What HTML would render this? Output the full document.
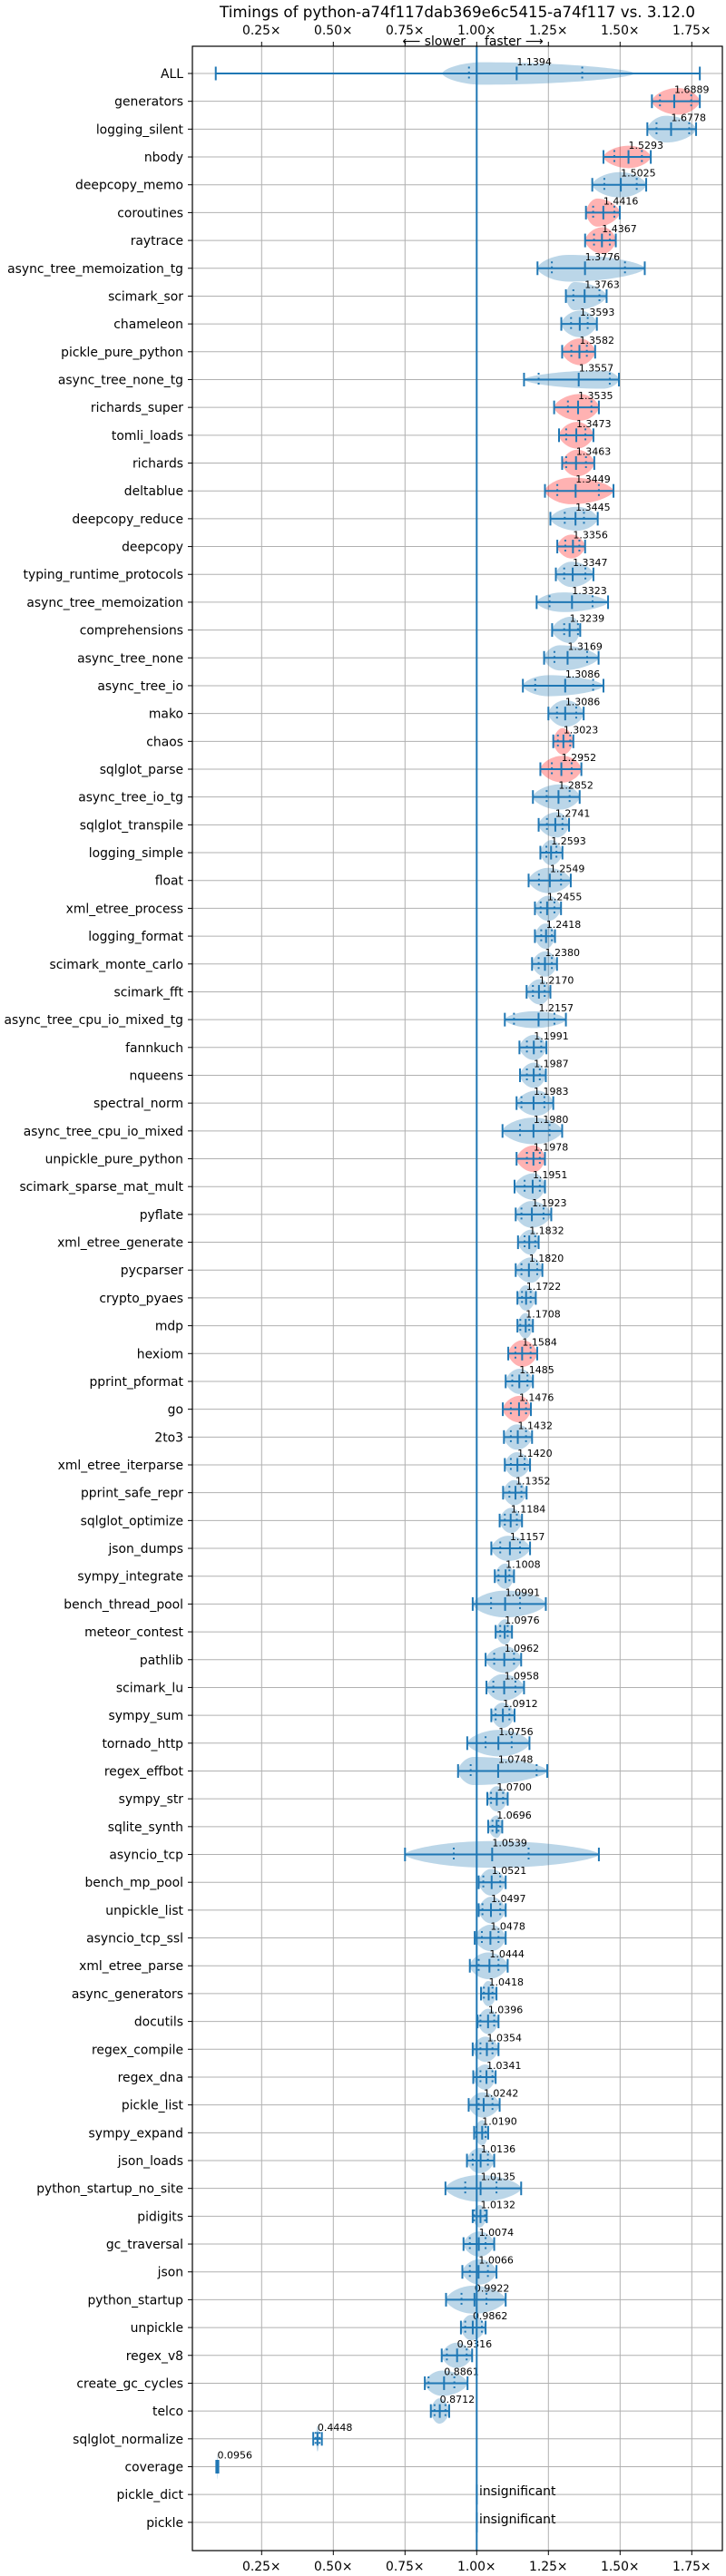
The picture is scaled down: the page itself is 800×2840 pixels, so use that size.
<!DOCTYPE html>
<html><head><meta charset="utf-8"><style>
html,body{margin:0;padding:0;background:#fff;}
svg{display:block;font-family:"DejaVu Sans","Liberation Sans",sans-serif;}
</style></head><body>
<svg id="chart" width="800" height="2840" viewBox="0 0 800 2840" xmlns="http://www.w3.org/2000/svg">
<rect x="0" y="0" width="800" height="2840" fill="#fff"/>
<text x="504" y="19" text-anchor="middle" font-size="16.7" fill="#000">Timings of python-a74f117dab369e6c5415-a74f117 vs. 3.12.0</text>
<text x="513" y="50" text-anchor="end" font-size="13.9" fill="#000">⟵ slower</text>
<text x="534" y="50" text-anchor="start" font-size="13.9" fill="#000">faster ⟶</text>
<g id="grid"></g>
<g id="marks"></g>
<g id="axes"></g>
</svg>
<script>
const names = ["ALL","generators","logging_silent","nbody","deepcopy_memo","coroutines","raytrace","async_tree_memoization_tg","scimark_sor","chameleon","pickle_pure_python","async_tree_none_tg","richards_super","tomli_loads","richards","deltablue","deepcopy_reduce","deepcopy","typing_runtime_protocols","async_tree_memoization","comprehensions","async_tree_none","async_tree_io","mako","chaos","sqlglot_parse","async_tree_io_tg","sqlglot_transpile","logging_simple","float","xml_etree_process","logging_format","scimark_monte_carlo","scimark_fft","async_tree_cpu_io_mixed_tg","fannkuch","nqueens","spectral_norm","async_tree_cpu_io_mixed","unpickle_pure_python","scimark_sparse_mat_mult","pyflate","xml_etree_generate","pycparser","crypto_pyaes","mdp","hexiom","pprint_pformat","go","2to3","xml_etree_iterparse","pprint_safe_repr","sqlglot_optimize","json_dumps","sympy_integrate","bench_thread_pool","meteor_contest","pathlib","scimark_lu","sympy_sum","tornado_http","regex_effbot","sympy_str","sqlite_synth","asyncio_tcp","bench_mp_pool","unpickle_list","asyncio_tcp_ssl","xml_etree_parse","async_generators","docutils","regex_compile","regex_dna","pickle_list","sympy_expand","json_loads","python_startup_no_site","pidigits","gc_traversal","json","python_startup","unpickle","regex_v8","create_gc_cycles","telco","sqlglot_normalize","coverage","pickle_dict","pickle"];
const medians = [1.1394,1.6889,1.6778,1.5293,1.5025,1.4416,1.4367,1.3776,1.3763,1.3593,1.3582,1.3557,1.3535,1.3473,1.3463,1.3449,1.3445,1.3356,1.3347,1.3323,1.3239,1.3169,1.3086,1.3086,1.3023,1.2952,1.2852,1.2741,1.2593,1.2549,1.2455,1.2418,1.2380,1.2170,1.2157,1.1991,1.1987,1.1983,1.1980,1.1978,1.1951,1.1923,1.1832,1.1820,1.1722,1.1708,1.1584,1.1485,1.1476,1.1432,1.1420,1.1352,1.1184,1.1157,1.1008,1.0991,1.0976,1.0962,1.0958,1.0912,1.0756,1.0748,1.0700,1.0696,1.0539,1.0521,1.0497,1.0478,1.0444,1.0418,1.0396,1.0354,1.0341,1.0242,1.0190,1.0136,1.0135,1.0132,1.0074,1.0066,0.9922,0.9862,0.9316,0.8861,0.8712,0.4448,0.0956,1.0,1.0];
const mins = [0.09,1.611,1.595,1.442,1.403,1.381,1.378,1.212,1.311,1.295,1.298,1.165,1.270,1.287,1.298,1.238,1.257,1.281,1.276,1.209,1.263,1.235,1.161,1.250,1.267,1.222,1.196,1.216,1.222,1.181,1.203,1.203,1.193,1.174,1.098,1.149,1.151,1.139,1.090,1.139,1.132,1.136,1.144,1.136,1.142,1.142,1.110,1.101,1.091,1.095,1.098,1.092,1.080,1.051,1.063,0.986,1.066,1.031,1.034,1.051,0.967,0.935,1.037,1.040,0.750,1.007,1.007,0.993,0.976,1.015,1.003,0.986,0.988,0.972,0.991,0.966,0.891,0.986,0.954,0.950,0.893,0.945,0.878,0.819,0.840,0.430,0.092,1.0,1.0];
const q1s = [0.973,1.639,1.627,1.480,1.445,1.406,1.409,1.262,1.337,1.329,1.330,1.216,1.318,1.312,1.312,1.281,1.307,1.309,1.305,1.254,1.305,1.271,1.204,1.280,1.283,1.262,1.244,1.245,1.243,1.217,1.223,1.225,1.216,1.196,1.130,1.175,1.175,1.156,1.151,1.175,1.167,1.156,1.167,1.156,1.158,1.152,1.135,1.124,1.119,1.119,1.119,1.114,1.098,1.082,1.076,1.050,1.082,1.061,1.058,1.066,1.031,0.979,1.050,1.055,0.920,1.023,1.020,1.018,1.007,1.025,1.013,1.013,1.013,1.007,0.999,0.986,0.960,0.991,0.976,0.976,0.947,0.960,0.896,0.832,0.853,0.438,0.093,1.0,1.0];
const q3s = [1.368,1.748,1.741,1.576,1.558,1.480,1.464,1.517,1.428,1.387,1.384,1.464,1.400,1.379,1.381,1.426,1.374,1.358,1.379,1.404,1.353,1.385,1.406,1.347,1.326,1.331,1.324,1.299,1.278,1.294,1.271,1.262,1.262,1.237,1.271,1.225,1.220,1.236,1.254,1.220,1.220,1.233,1.204,1.211,1.188,1.183,1.188,1.177,1.172,1.172,1.167,1.156,1.140,1.151,1.114,1.151,1.108,1.130,1.135,1.114,1.122,1.209,1.092,1.076,1.181,1.082,1.082,1.076,1.076,1.055,1.061,1.055,1.055,1.055,1.031,1.039,1.069,1.029,1.031,1.039,1.034,1.018,0.965,0.922,0.891,0.452,0.098,1.0,1.0];
const maxs = [1.778,1.778,1.765,1.607,1.591,1.499,1.485,1.586,1.453,1.419,1.413,1.496,1.426,1.407,1.410,1.477,1.422,1.378,1.407,1.458,1.361,1.425,1.442,1.373,1.337,1.365,1.359,1.322,1.299,1.328,1.294,1.273,1.280,1.257,1.311,1.243,1.241,1.267,1.298,1.238,1.238,1.260,1.216,1.229,1.206,1.196,1.211,1.196,1.189,1.193,1.186,1.174,1.158,1.186,1.130,1.241,1.123,1.155,1.165,1.132,1.184,1.246,1.108,1.089,1.426,1.101,1.101,1.101,1.108,1.069,1.076,1.076,1.066,1.080,1.040,1.061,1.155,1.035,1.061,1.069,1.101,1.031,0.984,0.968,0.904,0.460,0.099,1.0,1.0];
const shapeLo = [0.88,1.611,1.595,1.442,1.403,1.381,1.378,1.212,1.311,1.295,1.298,1.165,1.270,1.287,1.298,1.238,1.257,1.281,1.276,1.209,1.263,1.235,1.161,1.250,1.267,1.222,1.196,1.216,1.222,1.181,1.203,1.203,1.193,1.174,1.098,1.149,1.151,1.139,1.090,1.139,1.132,1.136,1.144,1.136,1.142,1.142,1.110,1.101,1.091,1.095,1.098,1.092,1.080,1.051,1.063,0.986,1.066,1.031,1.034,1.051,0.967,0.935,1.037,1.040,0.750,1.007,1.007,0.993,0.976,1.015,1.003,0.986,0.988,0.972,0.991,0.966,0.891,0.986,0.954,0.950,0.893,0.945,0.878,0.819,0.840,0.440,0.094,0.997,0.997];
const shapeHi = [1.55,1.778,1.765,1.607,1.591,1.499,1.485,1.586,1.453,1.419,1.413,1.496,1.426,1.407,1.410,1.477,1.422,1.378,1.407,1.458,1.361,1.425,1.442,1.373,1.337,1.365,1.359,1.322,1.299,1.328,1.294,1.273,1.280,1.257,1.311,1.243,1.241,1.267,1.298,1.238,1.238,1.260,1.216,1.229,1.206,1.196,1.211,1.196,1.189,1.193,1.186,1.174,1.158,1.186,1.130,1.241,1.123,1.155,1.165,1.132,1.184,1.246,1.108,1.089,1.426,1.101,1.101,1.101,1.108,1.069,1.076,1.076,1.066,1.080,1.040,1.061,1.155,1.035,1.061,1.069,1.101,1.031,0.984,0.968,0.904,0.450,0.097,1.003,1.003];
const peaks = [1.02,1.70,1.66,1.53,1.50,1.42,1.44,1.32,1.34,1.36,1.36,1.44,1.36,1.35,1.35,1.33,1.35,1.33,1.33,1.30,1.33,1.29,1.25,1.31,1.30,1.30,1.29,1.28,1.26,1.25,1.25,1.24,1.24,1.22,1.20,1.20,1.20,1.21,1.20,1.20,1.20,1.19,1.19,1.19,1.17,1.17,1.16,1.15,1.15,1.14,1.14,1.13,1.12,1.11,1.10,1.10,1.10,1.10,1.09,1.09,1.08,0.99,1.07,1.07,1.05,1.05,1.05,1.05,1.04,1.04,1.04,1.03,1.03,1.02,1.02,1.01,1.01,1.01,1.01,1.01,0.99,0.98,0.93,0.88,0.87,0.445,0.096,1.0,1.0];
const density = [0.8,0.95,0.95,0.8,0.9,1,0.95,0.95,1,0.95,0.95,0.65,0.95,0.95,0.95,0.95,0.85,0.85,0.9,0.7,0.95,0.9,0.75,0.95,0.95,0.95,0.9,0.9,0.9,0.9,0.9,0.9,0.9,0.9,0.6,0.9,0.9,0.9,0.95,0.95,0.95,0.95,0.9,0.9,0.9,0.9,0.95,0.9,0.95,0.9,0.9,0.9,0.9,0.9,0.9,0.95,0.9,0.95,0.95,0.9,0.95,1,0.9,0.8,0.95,0.95,0.95,0.95,0.95,0.9,0.9,0.9,0.9,0.9,0.9,0.9,0.95,0.8,0.9,0.9,1,0.9,0.9,0.9,0.9,0.9,0.9,0.6,0.6];
const slower = [0,1,0,1,0,1,1,0,0,0,1,0,1,1,1,1,0,1,0,0,0,0,0,0,1,1,0,0,0,0,0,0,0,0,0,0,0,0,0,1,0,0,0,0,0,0,1,0,1,0,0,0,0,0,0,0,0,0,0,0,0,0,0,0,0,0,0,0,0,0,0,0,0,0,0,0,0,0,0,0,0,0,0,0,0,0,0,0,0];
const insignificant = [87,88];
const tickValues = [0.25,0.5,0.75,1.0,1.25,1.5,1.75];
const tickLabels = ["0.25×","0.50×","0.75×","1.00×","1.25×","1.50×","1.75×"];

const NS = "http://www.w3.org/2000/svg";
const L = 212, R = 796, T = 51, B = 2812;
const xOf = v => 525.3 + (v - 1) * 316;
const yOf = i => 81 + i * 30.68;
const BLUE = "#1f77b4";
function mk(tag, attrs, parent){ const e=document.createElementNS(NS,tag); for(const k in attrs) e.setAttribute(k,attrs[k]); parent.appendChild(e); return e; }
const grid = document.getElementById('grid'), marks = document.getElementById('marks'), axes = document.getElementById('axes');

names.forEach((n,i)=>{
  const g = mk('line',{x1:L,x2:R,y1:yOf(i),y2:yOf(i),stroke:"#b0b0b0","stroke-width":1},grid);
  
  
});
tickValues.forEach((v,k)=>{
  const g = mk('line',{x1:xOf(v),x2:xOf(v),y1:T,y2:B,stroke:"#b0b0b0","stroke-width":1},grid);
  
  
});

names.forEach((n,i)=>{
  const cy = yOf(i);
  const grp = mk('g',{},marks);
  
  
  const fill = slower[i] ? "rgba(255,0,0,0.3)" : "rgba(31,119,180,0.3)";
  if (insignificant.includes(i)) {
    const r = mk('rect',{x:xOf(1)-1,y:cy-11,width:2.5,height:22,fill:"rgba(31,119,180,0.3)"},grp);
    
    
    const t = mk('text',{x:528,y:cy+1,"font-size":13.9,fill:"#000"},grp);
    t.textContent = "insignificant";
    
    
    return;
  }
  const a = xOf(shapeLo[i]), b = xOf(shapeHi[i]);
  let p = xOf(peaks[i]); p = Math.max(a+1, Math.min(b-1, p));
  const h = density[i]*15.5;
  const d = `M${a},${cy} C${a},${cy-h*0.35} ${p-(p-a)*0.55},${cy-h} ${p},${cy-h} C${p+(b-p)*0.55},${cy-h} ${b},${cy-h*0.35} ${b},${cy} C${b},${cy+h*0.35} ${p+(b-p)*0.55},${cy+h} ${p},${cy+h} C${p-(p-a)*0.55},${cy+h} ${a},${cy+h*0.35} ${a},${cy} Z`;
  const body = mk('path',{d,fill},grp);
  
  
  const x1 = xOf(mins[i]), x2 = xOf(maxs[i]);
  const w = mk('line',{x1,x2,y1:cy,y2:cy,stroke:BLUE,"stroke-width":2},grp);
  
  
  [[x1,'min'],[x2,'max'],[xOf(medians[i]),'median']].forEach(([x,k])=>{
    const c = mk('line',{x1:x,x2:x,y1:cy-7.5,y2:cy+7.5,stroke:BLUE,"stroke-width":2},grp);
    
    
  });
  [[xOf(q1s[i]),'q1'],[xOf(q3s[i]),'q3']].forEach(([x,k])=>{
    const c = mk('line',{x1:x,x2:x,y1:cy-7.5,y2:cy+7.5,stroke:BLUE,"stroke-width":2,"stroke-dasharray":"2,3.5"},grp);
    
    
  });
  const t = mk('text',{x:xOf(medians[i]),y:cy-9,"font-size":11,fill:"#000"},grp);
  t.textContent = medians[i].toFixed(4);
  
  
});

const vline = mk('line',{x1:xOf(1),x2:xOf(1),y1:T,y2:B,stroke:BLUE,"stroke-width":2},axes);


const frame = mk('rect',{x:L,y:T,width:R-L,height:B-T,fill:"none",stroke:"#000","stroke-width":1.2},axes);



tickValues.forEach((v,k)=>{
  const x = xOf(v);
  const tt = mk('line',{x1:x,x2:x,y1:T-5,y2:T,stroke:"#000","stroke-width":1},axes);
  
  
  const bt = mk('line',{x1:x,x2:x,y1:B,y2:B+5,stroke:"#000","stroke-width":1},axes);
  
  
  const t1 = mk('text',{x,y:38,"text-anchor":"middle","font-size":13.9,fill:"#000"},axes);
  t1.textContent = tickLabels[k];
  
  
  const t2 = mk('text',{x,y:2834,"text-anchor":"middle","font-size":13.9,fill:"#000"},axes);
  t2.textContent = tickLabels[k];
  
  
});
names.forEach((n,i)=>{
  const cy = yOf(i);
  const tk = mk('line',{x1:L-5,x2:L,y1:cy,y2:cy,stroke:"#000","stroke-width":1},axes);
  
  
  const t = mk('text',{x:L-10,y:cy+5,"text-anchor":"end","font-size":13.9,fill:"#000"},axes);
  t.textContent = n;
  
  
});
</script>
</body></html>
